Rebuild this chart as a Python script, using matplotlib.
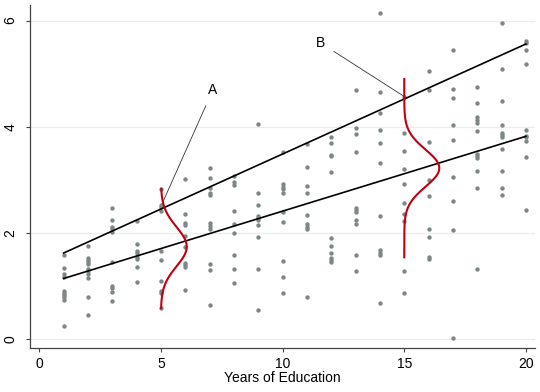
import numpy as np
import matplotlib
matplotlib.use('Agg')
import matplotlib.pyplot as plt

plt.rcParams['font.family'] = ['Liberation Sans', 'DejaVu Sans']

# Scatter data: income (y) for each year of education (x)
educ_years = list(range(1, 21))
income = [
    [1.58, 1.33, 1.22, 1.17, 0.91, 0.87, 0.83, 0.79, 0.74, 0.25],
    [1.75, 1.53, 1.49, 1.45, 1.42, 1.32, 1.28, 1.22, 1.15, 0.79, 0.45],
    [2.47, 2.25, 2.12, 2.07, 2.02, 1.45, 1.00, 0.96, 0.89, 0.72],
    [2.23, 1.79, 1.66, 1.63, 1.54, 1.50, 1.36, 1.08],
    [2.83, 2.53, 2.48, 2.42, 1.65, 1.48, 1.10, 0.91, 0.86, 0.58],
    [3.02, 2.36, 2.18, 2.15, 1.95, 1.74, 1.44, 1.39, 1.35, 0.92],
    [3.23, 3.04, 2.85, 2.76, 2.71, 2.19, 2.13, 2.08, 1.41, 1.30, 0.65],
    [3.07, 2.95, 2.90, 2.42, 2.17, 1.99, 1.58, 1.31, 1.05],
    [4.06, 2.75, 2.52, 2.32, 2.28, 2.24, 2.15, 1.93, 1.31, 0.54],
    [3.53, 2.92, 2.87, 2.82, 2.76, 2.39, 2.21, 1.47, 1.16, 0.86],
    [3.68, 3.25, 2.88, 2.76, 2.34, 2.16, 2.11, 2.07, 0.80],
    [3.81, 3.70, 3.47, 3.44, 3.14, 1.91, 1.75, 1.62, 1.53, 1.48, 1.45],
    [4.70, 3.97, 3.86, 3.53, 2.47, 2.43, 2.40, 2.25, 2.17, 1.58, 1.28],
    [6.14, 4.66, 4.26, 3.94, 3.70, 3.31, 2.31, 1.67, 1.62, 1.58, 0.67],
    [4.57, 3.89, 3.55, 3.20, 2.92, 2.56, 2.35, 2.23, 1.28, 0.86],
    [5.05, 4.69, 3.71, 2.99, 2.69, 2.08, 1.93, 1.54, 1.51],
    [5.44, 4.72, 4.55, 4.04, 3.75, 3.06, 2.61, 2.06, 0.01],
    [4.74, 4.44, 4.18, 4.13, 4.08, 3.92, 3.48, 3.44, 3.41, 3.16, 2.85, 1.31],
    [5.96, 5.08, 4.48, 4.04, 3.89, 3.85, 3.80, 3.59, 3.16, 2.84, 2.71],
    [5.62, 5.57, 5.45, 5.18, 3.93, 3.83, 3.80, 3.74, 3.43, 2.43],
]

# Fitted lines (endpoints at x=1 and x=20)
line_x = [1, 20]
upper_line = [1.62, 5.56]
lower_line = [1.14, 3.82]

# Conditional densities drawn sideways at x=5 and x=15
dens_x = [5, 15]
dens_mean = [1.74, 3.22]
dens_sd = [0.37, 0.35]
dens_height = [1.06, 1.44]
dens_lo = [0.58, 1.54]
dens_hi = [2.83, 4.90]

xticks = [0, 5, 10, 15, 20]
yticks = [0, 2, 4, 6]

fig = plt.figure(figsize=(5.4, 3.92), dpi=100)
ax = fig.add_axes([0.0556, 0.113, 0.935, 0.875])

for y in yticks:
    ax.axhline(y, color='#ececec', lw=0.9, zorder=0)

xs = [x for x, vals in zip(educ_years, income) for _ in vals]
ys = [v for vals in income for v in vals]
ax.scatter(xs, ys, s=10, color='#7d8885', linewidths=0, zorder=2)

ax.plot(line_x, upper_line, color='black', lw=1.2, zorder=3)
ax.plot(line_x, lower_line, color='black', lw=1.2, zorder=3)

for x0, mu, sd, h, lo, hi in zip(dens_x, dens_mean, dens_sd, dens_height, dens_lo, dens_hi):
    yy = np.linspace(lo, hi, 200)
    xx = x0 + h * np.exp(-(yy - mu) ** 2 / (2 * sd ** 2))
    ax.plot(xx, yy, color='#c00010', lw=1.5, zorder=4)

ax.annotate('A', xy=(5.05, 2.55), xytext=(7.14, 4.70), fontsize=10,
            ha='center', va='center',
            arrowprops=dict(arrowstyle='-', color='#333333', lw=0.6, shrinkA=5, shrinkB=0))
ax.annotate('B', xy=(15.0, 4.57), xytext=(11.56, 5.58), fontsize=10,
            ha='center', va='center',
            arrowprops=dict(arrowstyle='-', color='#333333', lw=0.6, shrinkA=5, shrinkB=0))

ax.set_xlim(-0.38, 20.37)
ax.set_ylim(-0.164, 6.3)
ax.set_xticks(xticks)
ax.set_yticks(yticks)
ax.set_yticklabels([str(t) for t in yticks], rotation=90, va='center')
ax.tick_params(axis='both', labelsize=10, length=3, color='#444444', width=0.8)
ax.tick_params(axis='y', pad=6)
ax.set_xlabel('Years of Education', fontsize=10, labelpad=0)

for side in ['top', 'right']:
    ax.spines[side].set_visible(False)
for side in ['left', 'bottom']:
    ax.spines[side].set_color('#444444')
    ax.spines[side].set_linewidth(0.9)

fig.savefig('out.png', dpi=100)
